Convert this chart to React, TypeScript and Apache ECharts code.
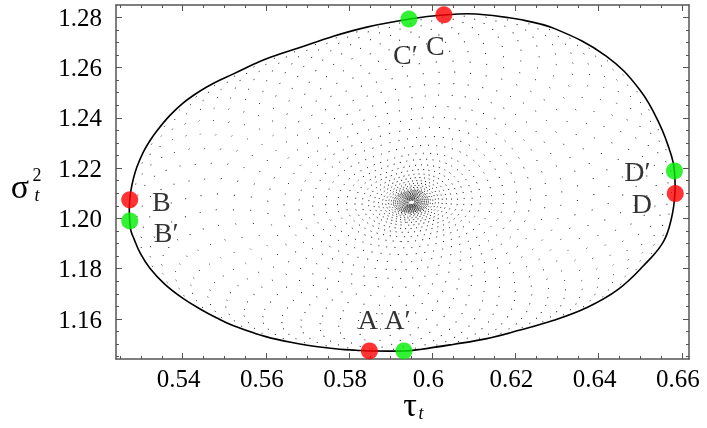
import React, { useEffect, useRef } from "react";
import * as echarts from "echarts";

// Limit cycle (solid curve)
const cycleTau = [0.5848, 0.5932, 0.5970, 0.6050, 0.6131, 0.6211, 0.6290, 0.6372, 0.6446, 0.6507, 0.6555, 0.6575, 0.6583, 0.6582, 0.6575, 0.6547, 0.6499, 0.6418, 0.6297, 0.6211, 0.6105, 0.6026, 0.5946, 0.5843, 0.5761, 0.5682, 0.5600, 0.5521, 0.5478, 0.5442, 0.5401, 0.5369, 0.5338, 0.5321, 0.5305, 0.5290, 0.5282, 0.5276, 0.5273, 0.5272, 0.5273, 0.5276, 0.5283, 0.5297, 0.5321, 0.5357, 0.5401, 0.5442, 0.5480, 0.5521, 0.5600, 0.5682, 0.5720, 0.5778, 0.5817];
const cycleSigma = [1.1473, 1.1473, 1.1479, 1.1499, 1.1522, 1.1556, 1.1594, 1.1646, 1.1717, 1.1811, 1.1906, 1.2002, 1.2097, 1.2189, 1.2248, 1.2372, 1.2511, 1.2646, 1.2753, 1.2791, 1.2813, 1.2809, 1.2793, 1.2761, 1.2724, 1.2680, 1.2634, 1.2574, 1.2541, 1.2507, 1.2459, 1.2409, 1.2348, 1.2308, 1.2262, 1.2204, 1.2160, 1.2113, 1.2073, 1.2034, 1.1990, 1.1950, 1.1920, 1.1866, 1.1803, 1.1739, 1.1682, 1.1640, 1.1606, 1.1574, 1.1530, 1.1501, 1.1491, 1.1480, 1.1476];

// Unstable focus and the dotted trajectory's ring levels (fraction of the way to the cycle)
const focusTau = 0.5950;
const focusSigma = 1.2063;
const ringLevels = [0.012, 0.016, 0.020, 0.024, 0.028, 0.033, 0.038, 0.044, 0.050, 0.057, 0.064, 0.072, 0.081, 0.091, 0.103, 0.117, 0.133, 0.152, 0.175, 0.200, 0.230, 0.262, 0.304, 0.350, 0.399, 0.452, 0.510, 0.570, 0.631, 0.692, 0.749, 0.802, 0.852, 0.894, 0.928, 0.954, 0.973, 0.987];

// Marked points
const pointNames = ["A", "A\u2032", "B", "B\u2032", "C", "C\u2032", "D", "D\u2032"];
const pointTau = [0.5849, 0.5932, 0.5273, 0.5273, 0.6028, 0.5944, 0.6584, 0.6582];
const pointSigma = [1.1473, 1.1473, 1.2074, 1.1990, 1.2810, 1.2793, 1.2099, 1.2189];

// Ticks
const xTicks = [0.54, 0.56, 0.58, 0.6, 0.62, 0.64, 0.66];
const xMinor = [0.525, 0.53, 0.535, 0.545, 0.55, 0.555, 0.565, 0.57, 0.575, 0.585, 0.59, 0.595, 0.605, 0.61, 0.615, 0.625, 0.63, 0.635, 0.645, 0.65, 0.655];
const yTicks = [1.16, 1.18, 1.2, 1.22, 1.24, 1.26, 1.28];
const yMinor = [1.145, 1.15, 1.155, 1.165, 1.17, 1.175, 1.185, 1.19, 1.195, 1.205, 1.21, 1.215, 1.225, 1.23, 1.235, 1.245, 1.25, 1.255, 1.265, 1.27, 1.275];

const X_MIN = 0.524, X_MAX = 0.6617, Y_MIN = 1.1441, Y_MAX = 1.2849;
const FONT = '"Liberation Serif", "DejaVu Serif", serif';
const FRAME = "#555";

const labelOffsets: number[][] = [[-1.5, -31], [-6.5, -31], [31.5, 1.5], [36.5, 12], [-8.5, 31], [-3.5, 35], [-33.5, 10], [-37, 1]];

export default function App() {
  const ref = useRef<HTMLDivElement>(null);
  useEffect(() => {
    if (!ref.current) return;
    const chart = echarts.init(ref.current, null, { renderer: "svg" });
    const mkX = (pos: string, vals: number[], len: number, labels: boolean, line: boolean) => ({
      type: "value", position: pos, min: X_MIN, max: X_MAX,
      axisLine: { show: line, onZero: false, lineStyle: { color: FRAME, width: 1.5 } },
      axisTick: { show: true, inside: true, length: len, customValues: vals, lineStyle: { color: FRAME, width: 1 } },
      axisLabel: labels ? {
        show: true, customValues: vals, margin: 7, color: "#000", fontFamily: FONT, fontSize: 25,
        padding: [0, 8, 0, 0],
        formatter: (v: number) => String(parseFloat(v.toFixed(2))),
      } : { show: false },
      splitLine: { show: false },
    });
    const mkY = (pos: string, vals: number[], len: number, labels: boolean, line: boolean) => ({
      type: "value", position: pos, min: Y_MIN, max: Y_MAX,
      axisLine: { show: line, onZero: false, lineStyle: { color: FRAME, width: 1.5 } },
      axisTick: { show: true, inside: true, length: len, customValues: vals, lineStyle: { color: FRAME, width: 1 } },
      axisLabel: labels ? {
        show: true, customValues: vals, margin: 14, color: "#000", fontFamily: FONT, fontSize: 25,
        padding: [6, 0, 0, 0],
        formatter: (v: number) => v.toFixed(2),
      } : { show: false },
      splitLine: { show: false },
    });

    const cyclePts = cycleTau.map((t, i) => [t, cycleSigma[i]]);

    chart.setOption({
      animation: false,
      grid: { left: 116, top: 5, right: 18, bottom: 69, containLabel: false },
      xAxis: [
        mkX("bottom", xTicks, 6, true, true),
        mkX("bottom", xMinor, 3, false, false),
        mkX("top", xTicks, 6, false, true),
        mkX("top", xMinor, 3, false, false),
      ],
      yAxis: [
        mkY("left", yTicks, 6, true, true),
        mkY("left", yMinor, 3, false, false),
        mkY("right", yTicks, 6, false, true),
        mkY("right", yMinor, 3, false, false),
      ],
      series: [
        {
          type: "custom",
          xAxisIndex: 0, yAxisIndex: 0,
          silent: true,
          encode: { x: 0, y: 1 },
          data: ringLevels.map((s) => [focusTau, focusSigma, s]),
          renderItem: (params: any, api: any) => {
            const s = api.value(2);
            const pts = cycleTau.map((t, i) =>
              api.coord([focusTau + s * (t - focusTau), focusSigma + s * (cycleSigma[i] - focusSigma)])
            );
            const gap = s < 0.07 ? 0.8 : 1 + 20 * s;
            return {
              type: "polygon",
              shape: { points: pts, smooth: 0.4 },
              style: {
                fill: "none", stroke: "#111", lineWidth: 1,
                lineDash: [1, gap], lineDashOffset: params.dataIndex * 0.43 * (1 + gap),
              },
              silent: true,
            };
          },
          z: 1,
        },
        {
          type: "custom",
          xAxisIndex: 0, yAxisIndex: 0,
          silent: true,
          encode: { x: 0, y: 1 },
          data: [[focusTau, focusSigma]],
          renderItem: (params: any, api: any) => ({
            type: "polygon",
            shape: { points: cyclePts.map((p) => api.coord(p)), smooth: 0.4 },
            style: { fill: "none", stroke: "#000", lineWidth: 1.6 },
            silent: true,
          }),
          z: 2,
        },
        {
          type: "scatter",
          xAxisIndex: 0, yAxisIndex: 0,
          symbolSize: 17,
          z: 3,
          data: pointNames.map((n, i) => ({
            name: n,
            value: [pointTau[i], pointSigma[i]],
            itemStyle: { color: n.length > 1 ? "#00ee00" : "#ff0000" },
            label: {
              show: true, position: "inside", offset: labelOffsets[i],
              formatter: n, color: "#000", fontFamily: FONT, fontSize: 28,
            },
          })),
        },
      ],
      graphic: [
        { type: "text", x: 20, y: 186, style: { text: "\u03c3", fontFamily: FONT, fontSize: 34, fill: "#000", align: "center", verticalAlign: "middle" } },
        { type: "text", x: 37, y: 195, style: { text: "t", fontFamily: FONT, fontStyle: "italic", fontSize: 18, fill: "#000", align: "center", verticalAlign: "middle" } },
        { type: "text", x: 37, y: 175, style: { text: "2", fontFamily: FONT, fontSize: 18, fill: "#000", align: "center", verticalAlign: "middle" } },
        { type: "text", x: 410, y: 404, style: { text: "\u03c4", fontFamily: FONT, fontSize: 34, fill: "#000", align: "center", verticalAlign: "middle" } },
        { type: "text", x: 421, y: 413, style: { text: "t", fontFamily: FONT, fontStyle: "italic", fontSize: 18, fill: "#000", align: "center", verticalAlign: "middle" } },
      ],
    });
    return () => chart.dispose();
  }, []);
  return <div ref={ref} style={{ position: "fixed", left: 0, top: 0, width: 707, height: 428 }} />;
}
